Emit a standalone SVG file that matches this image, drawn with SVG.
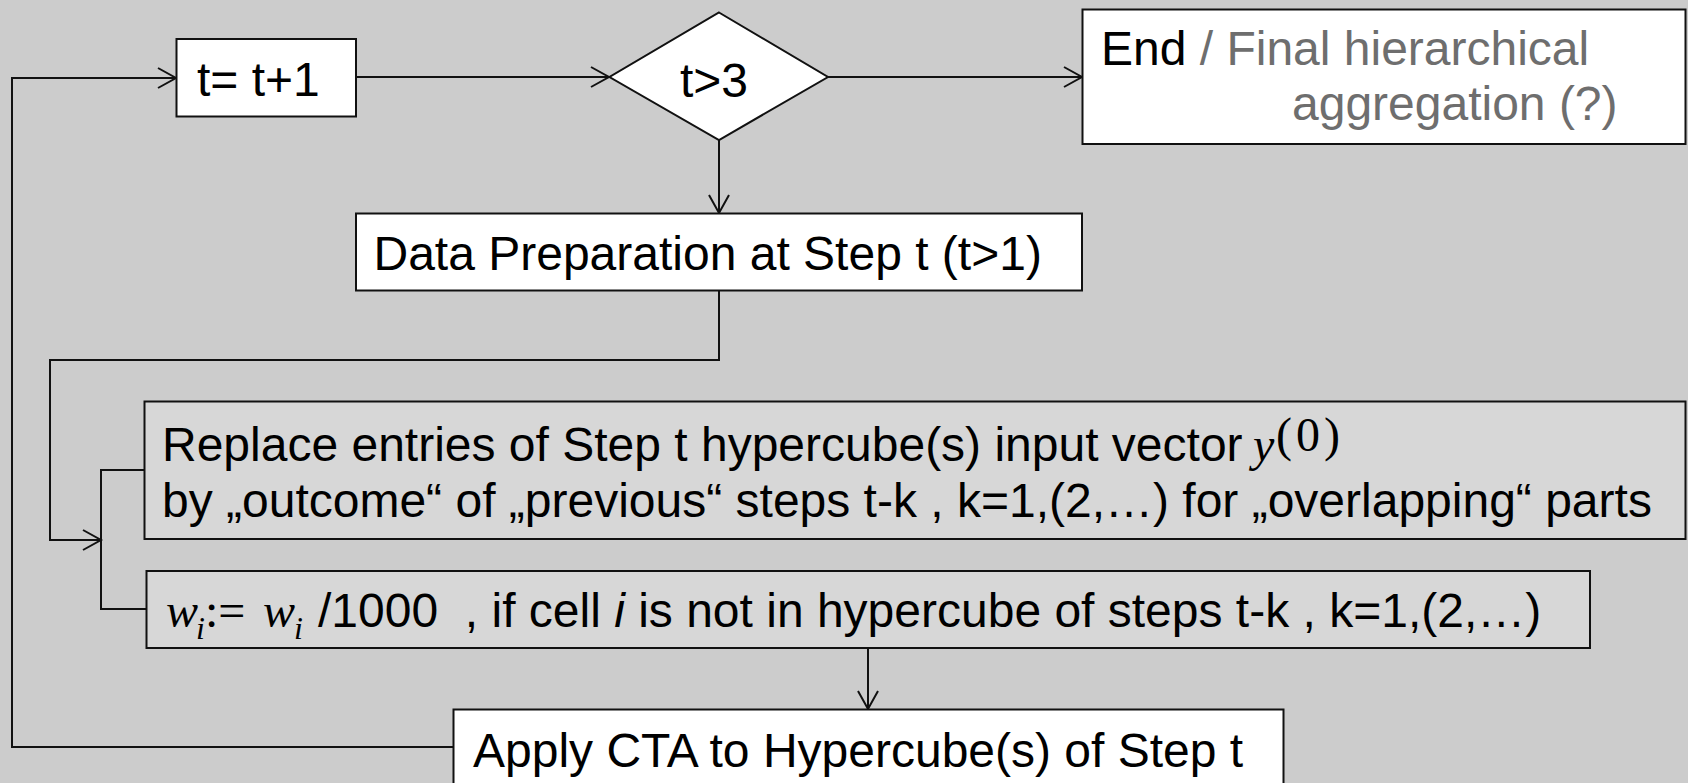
<svg xmlns="http://www.w3.org/2000/svg" width="1688" height="783" viewBox="0 0 1688 783">
  <style>
    .box { stroke: #111; stroke-width: 2; }
    .white { fill: #ffffff; }
    .grey { fill: #d7d7d7; }
    .lbl { font-family: "Liberation Sans", Arial, sans-serif; font-size: 48px; fill: #000; white-space: pre; }
    .muted { fill: #6e6e6e; }
    .math { font-family: "Liberation Serif", "Times New Roman", serif; font-style: italic; }
    .up { font-family: "Liberation Serif", "Times New Roman", serif; font-style: normal; }
    .wire { fill: none; stroke: #111; stroke-width: 2; }
  </style>
  <defs>
    <marker id="arrow" markerUnits="userSpaceOnUse" viewBox="0 0 22 24" markerWidth="22" markerHeight="24" refX="19" refY="12" orient="auto">
      <path d="M1,2 L19,12 L1,22" fill="none" stroke="#111" stroke-width="2"/>
    </marker>
  </defs>

  <rect width="1688" height="783" fill="#cccccc"/>

  <!-- connectors -->
  <g id="connectors">
    <path class="wire" d="M356,77 H609" marker-end="url(#arrow)"/>
    <path class="wire" d="M828,77 H1082" marker-end="url(#arrow)"/>
    <path class="wire" d="M719,140 V213" marker-end="url(#arrow)"/>
    <path class="wire" d="M719,291 V360 H50 V540 H101" marker-end="url(#arrow)"/>
    <path class="wire" d="M144,470 H101 V609 H146"/>
    <path class="wire" d="M868,648 V709" marker-end="url(#arrow)"/>
    <path class="wire" d="M453,747 H12 V78 H176" marker-end="url(#arrow)"/>
  </g>

  <!-- increment step -->
  <g id="node-increment">
    <rect class="box white" x="176.5" y="39" width="179.5" height="77.5"/>
    <text class="lbl" x="197" y="96">t= t+1</text>
  </g>

  <!-- termination test -->
  <g id="node-test">
    <polygon class="box white" points="719,12.5 828,77 719,140 609.5,77"/>
    <text class="lbl" x="714" y="97" text-anchor="middle">t&gt;3</text>
  </g>

  <!-- end -->
  <g id="node-end">
    <rect class="box white" x="1082.5" y="9.5" width="603" height="134.5"/>
    <text class="lbl" x="1101" y="65">End<tspan class="muted"> / Final hierarchical</tspan></text>
    <text class="lbl muted" x="1292" y="120">aggregation (?)</text>
  </g>

  <!-- data preparation -->
  <g id="node-prep">
    <rect class="box white" x="356" y="213.5" width="726" height="77"/>
    <text class="lbl" x="373.5" y="270">Data Preparation at Step t (t&gt;1)</text>
  </g>

  <!-- replace entries -->
  <g id="node-replace">
    <rect class="box grey" x="144.5" y="401.5" width="1541" height="137.5"/>
    <text class="lbl" x="162" y="461">Replace entries of Step t hypercube(s) input vector</text>
    <text class="lbl math" x="1253" y="461" font-size="52">y</text>
    <text class="lbl up" x="1276" y="451" font-size="36" letter-spacing="4">(0)</text>
    <text class="lbl" x="162" y="517">by „outcome“ of „previous“ steps t-k , k=1,(2,…) for „overlapping“ parts</text>
  </g>

  <!-- weight adjustment -->
  <g id="node-weights">
    <rect class="box grey" x="146.5" y="571" width="1443.5" height="77"/>
    <text class="lbl" y="627"><tspan class="math" x="166">w</tspan><tspan class="math" x="196" y="639" font-size="32">i</tspan><tspan class="up" x="205" y="627">:=</tspan><tspan class="math" x="263">w</tspan><tspan class="math" x="294" y="639" font-size="32">i</tspan><tspan x="318" y="627">/1000  , if cell </tspan><tspan font-style="italic">i</tspan><tspan> is not in hypercube of steps t-k , k=1,(2,…)</tspan></text>
  </g>

  <!-- CTA -->
  <g id="node-cta">
    <rect class="box white" x="453.5" y="709.5" width="830" height="90"/>
    <text class="lbl" x="473" y="767">Apply CTA to Hypercube(s) of Step t</text>
  </g>
</svg>
